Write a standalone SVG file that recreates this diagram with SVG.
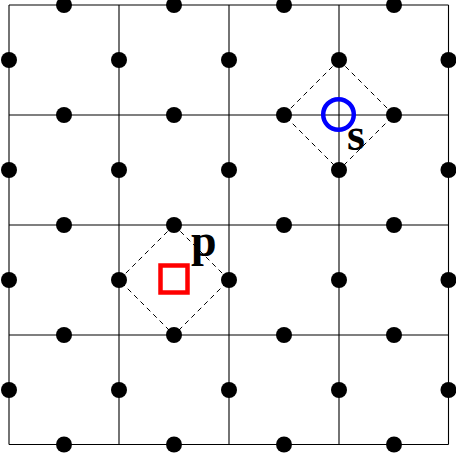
<svg xmlns="http://www.w3.org/2000/svg" width="456" height="457" viewBox="0 0 456 457">
<style>
.g{stroke:#000;stroke-width:1.1;fill:none}
.d{fill:#000}
.dash{stroke:#000;stroke-width:1;fill:none;stroke-dasharray:5 4}
.lbl{font-family:"Liberation Serif",serif;font-weight:bold;font-size:46px;fill:#000}
</style>
<rect width="456" height="457" fill="#fff"/>
<g id="connectors">
<g class="g">
<line x1="9" y1="5" x2="9" y2="444.5"/>
<line x1="119" y1="5" x2="119" y2="444.5"/>
<line x1="229" y1="5" x2="229" y2="444.5"/>
<line x1="339" y1="5" x2="339" y2="444.5"/>
<line x1="448.5" y1="5" x2="448.5" y2="444.5"/>
<line x1="9" y1="5" x2="448.5" y2="5"/>
<line x1="9" y1="115" x2="448.5" y2="115"/>
<line x1="9" y1="225" x2="448.5" y2="225"/>
<line x1="9" y1="335" x2="448.5" y2="335"/>
<line x1="9" y1="444.5" x2="448.5" y2="444.5"/>
</g>
<polygon class="dash" points="174,225 229,280 174,335 119,280"/>
<polygon class="dash" points="339,60 394,115 339,170 284,115"/>
</g>
<g id="dots" class="d">
<circle cx="64" cy="5" r="8"/><circle cx="174" cy="5" r="8"/><circle cx="284" cy="5" r="8"/><circle cx="394" cy="5" r="8"/>
<circle cx="9" cy="60" r="8"/><circle cx="119" cy="60" r="8"/><circle cx="229" cy="60" r="8"/><circle cx="339" cy="60" r="8"/><circle cx="448.5" cy="60" r="8"/>
<circle cx="64" cy="115" r="8"/><circle cx="174" cy="115" r="8"/><circle cx="284" cy="115" r="8"/><circle cx="394" cy="115" r="8"/>
<circle cx="9" cy="170" r="8"/><circle cx="119" cy="170" r="8"/><circle cx="229" cy="170" r="8"/><circle cx="339" cy="170" r="8"/><circle cx="448.5" cy="170" r="8"/>
<circle cx="64" cy="225" r="8"/><circle cx="174" cy="225" r="8"/><circle cx="284" cy="225" r="8"/><circle cx="394" cy="225" r="8"/>
<circle cx="9" cy="280" r="8"/><circle cx="119" cy="280" r="8"/><circle cx="229" cy="280" r="8"/><circle cx="339" cy="280" r="8"/><circle cx="448.5" cy="280" r="8"/>
<circle cx="64" cy="335" r="8"/><circle cx="174" cy="335" r="8"/><circle cx="284" cy="335" r="8"/><circle cx="394" cy="335" r="8"/>
<circle cx="9" cy="390" r="8"/><circle cx="119" cy="390" r="8"/><circle cx="229" cy="390" r="8"/><circle cx="339" cy="390" r="8"/><circle cx="448.5" cy="390" r="8"/>
<circle cx="64" cy="444.5" r="8"/><circle cx="174" cy="444.5" r="8"/><circle cx="284" cy="444.5" r="8"/><circle cx="394" cy="444.5" r="8"/>
</g>
<g id="node-p">
<rect x="160.5" y="265.5" width="27" height="27" fill="none" stroke="#f00" stroke-width="4.5"/>
<text class="lbl" x="191" y="256">p</text>
</g>
<g id="node-s">
<circle cx="338.5" cy="114.5" r="15.3" fill="none" stroke="#00f" stroke-width="4.5"/>
<text class="lbl" x="347" y="150">s</text>
</g>
</svg>
